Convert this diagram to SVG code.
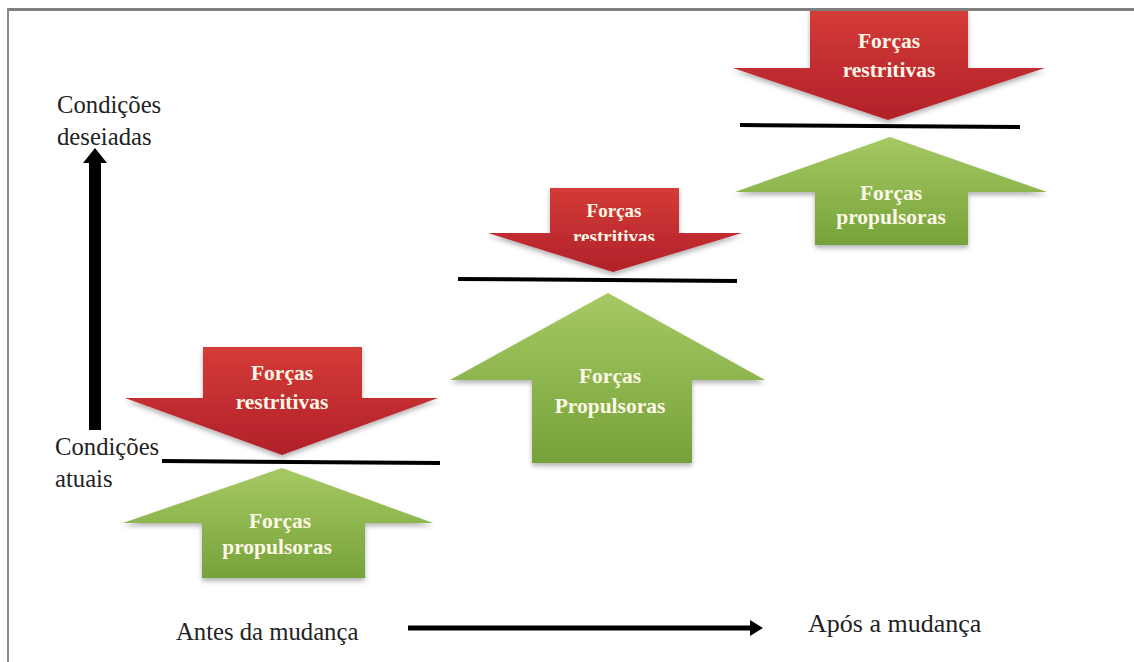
<svg xmlns="http://www.w3.org/2000/svg" width="1134" height="662" viewBox="0 0 1134 662">
<defs>
<linearGradient id="gr" x1="0" y1="0" x2="0" y2="1"><stop offset="0" stop-color="#d43b37"/><stop offset="1" stop-color="#b1212a"/></linearGradient>
<linearGradient id="gg" x1="0" y1="0" x2="0" y2="1"><stop offset="0" stop-color="#a6c964"/><stop offset="1" stop-color="#76a23a"/></linearGradient>
<filter id="sh" x="-10%" y="-10%" width="120%" height="130%"><feDropShadow dx="0" dy="3" stdDeviation="2.5" flood-color="#000" flood-opacity="0.3"/></filter>
<clipPath id="c2"><rect x="440" y="180" width="340" height="61"/></clipPath>
</defs>
<style>
.red{fill:url(#gr);filter:url(#sh)}
.grn{fill:url(#gg);filter:url(#sh)}
.al{font-family:"Liberation Serif",serif;font-weight:bold;font-size:21.5px;fill:#fdf8e6;text-anchor:middle}
.lb{font-family:"Liberation Serif",serif;font-size:24.7px;fill:#222}
.eq{stroke:#000;stroke-width:4}
</style>
<rect width="1134" height="662" fill="#fff"/>
<rect x="7" y="8" width="1127" height="3" fill="#808080"/>
<rect x="7" y="8" width="2" height="654" fill="#8a8a8a"/>

<g id="left-labels">
<text class="lb" x="57" y="113">Condições</text>
<text class="lb" x="57" y="145">deseiadas</text>
<text class="lb" x="55" y="455">Condições</text>
<text class="lb" x="55" y="487">atuais</text>
</g>

<g id="block1">
<path class="red" d="M203,347 H362 V398 H438 L282,455 L125,398 H203 Z"/>
<text class="al" x="282" y="380">Forças</text>
<text class="al" x="282" y="409">restritivas</text>
<path class="grn" d="M282,468 L433,523 H365 V578 H202 V523 H123 Z"/>
<text class="al" x="280" y="528">Forças</text>
<text class="al" x="277" y="554">propulsoras</text>
</g>

<g id="block2">
<path class="red" d="M550,188 H679 V233 H742 L613,272 L488,233 H550 Z"/>
<text class="al" x="614" y="217" style="font-size:19px">Forças</text>
<text class="al" x="614" y="243" clip-path="url(#c2)" style="font-size:19px">restritivas</text>
<path class="grn" d="M608,293 L765,380 H692 V463 H532 V380 H450 Z"/>
<text class="al" x="610" y="383">Forças</text>
<text class="al" x="610" y="413">Propulsoras</text>
</g>

<g id="block3">
<path class="red" d="M810,11 H968 V68 H1045 L888,120 L733,68 H810 Z"/>
<text class="al" x="889" y="48">Forças</text>
<text class="al" x="889" y="77">restritivas</text>
<path class="grn" d="M890,137 L1047,192 H968 V245 H815 V192 H735 Z"/>
<text class="al" x="891" y="200">Forças</text>
<text class="al" x="891" y="224">propulsoras</text>
</g>

<g id="bottom-labels">
<text class="lb" x="176" y="640">Antes da mudança</text>
<text class="lb" x="808" y="632" style="font-size:26px">Após a mudança</text>
</g>

<g id="connectors">
<line class="eq" x1="162" y1="461" x2="440" y2="463"/>
<line class="eq" x1="458" y1="279" x2="737" y2="281"/>
<line class="eq" x1="740" y1="125" x2="1020" y2="127"/>
<path d="M89,430 V163 H83 L95,148 L107,163 H101 V430 Z" fill="#000"/>
<path d="M408,625.5 H750 V620 L763,628 L750,636 V630.5 H408 Z" fill="#000"/>
</g>
</svg>
